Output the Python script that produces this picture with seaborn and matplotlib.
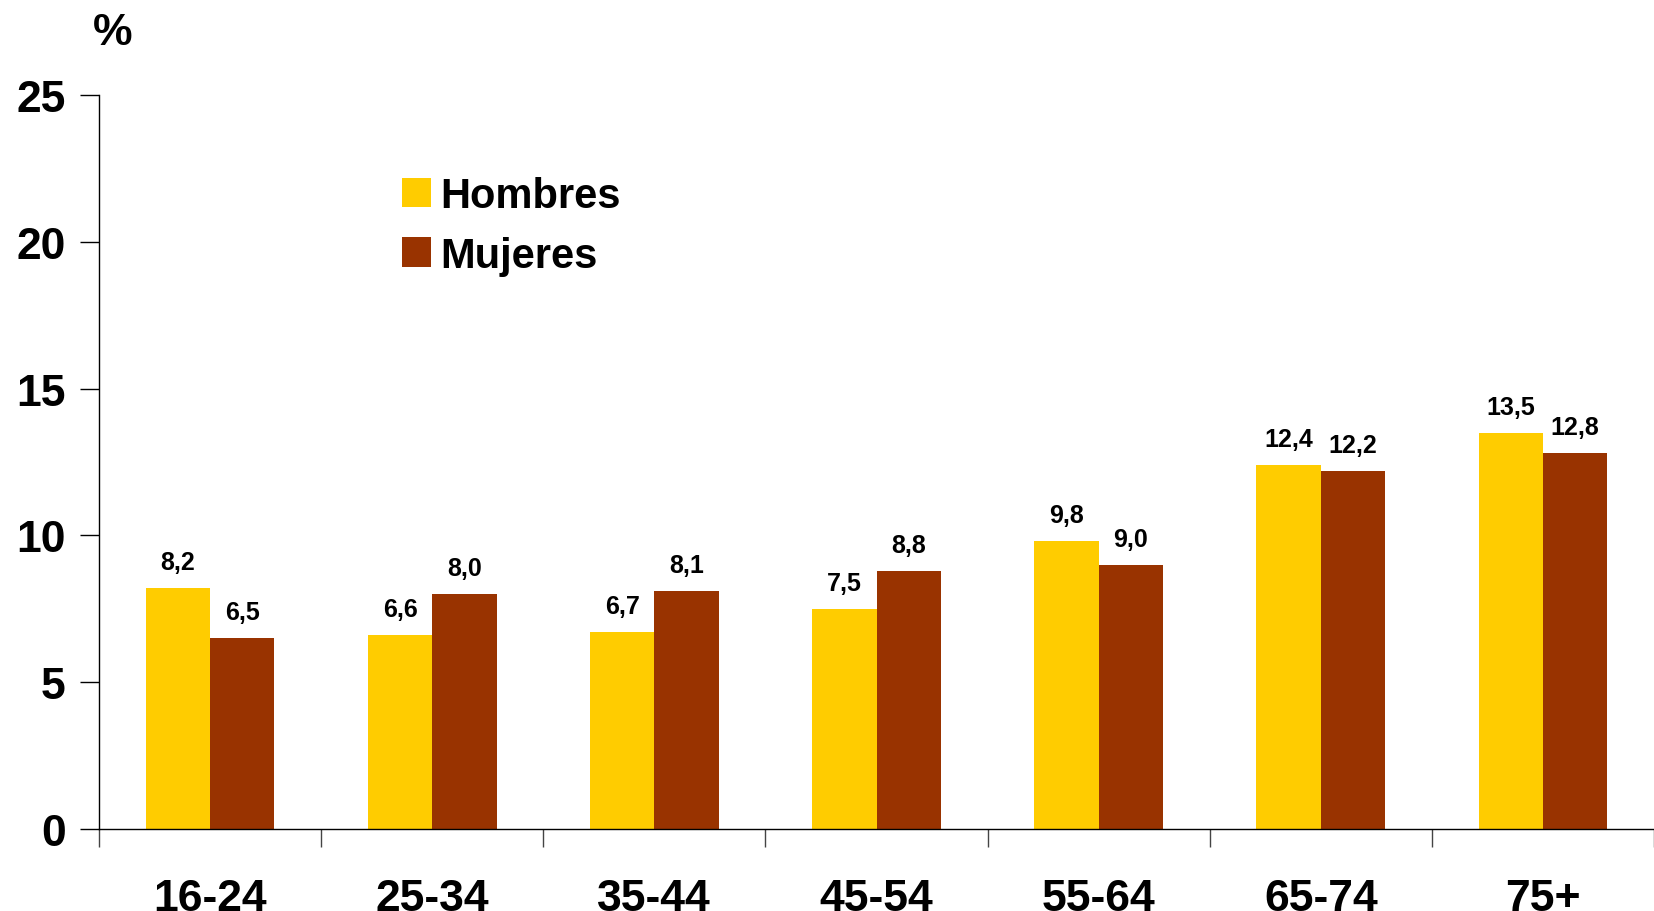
import matplotlib
matplotlib.use("Agg")
import matplotlib.pyplot as plt
import seaborn as sns
import pandas as pd
import numpy as np

categories = ["16-24", "25-34", "35-44", "45-54", "55-64", "65-74", "75+"]
hombres = [8.2, 6.6, 6.7, 7.5, 9.8, 12.4, 13.5]
mujeres = [6.5, 8.0, 8.1, 8.8, 9.0, 12.2, 12.8]
series = ["Hombres", "Mujeres"]
colors = ["#FFCC00", "#993300"]
yticks = [0, 5, 10, 15, 20, 25]

df = pd.DataFrame({
    "edad": categories * 2,
    "sexo": [series[0]] * len(categories) + [series[1]] * len(categories),
    "valor": hombres + mujeres,
})

sns.set_theme(style="white")
plt.rcParams["font.family"] = ["Liberation Sans", "DejaVu Sans"]
plt.rcParams["font.weight"] = "bold"
plt.rcParams["text.color"] = "black"
plt.rcParams["xtick.color"] = "black"
plt.rcParams["ytick.color"] = "black"

W, H = 1654, 912
fig = plt.figure(figsize=(W / 100, H / 100), dpi=100)
ax = fig.add_axes([99 / W, 1 - 830 / H, 1 - 99 / W, (830 - 96) / H])

sns.barplot(data=df, x="edad", y="valor", hue="sexo", palette=colors,
            width=0.58, saturation=1, gap=0, ax=ax, legend=True,
            linewidth=0, edgecolor="none")

for cont in ax.containers:
    labels = [f"{v:.1f}".replace(".", ",") for v in cont.datavalues]
    ax.bar_label(cont, labels=labels, padding=10, fontsize=18,
                 fontweight="bold", color="black")

ax.set_xlim(-0.5, 6.448)
ax.set_ylim(0, 25)
ax.set_yticks(yticks)
ax.set_yticklabels([str(t) for t in yticks], fontsize=32, fontweight="bold",
                   color="black")
ax.set_xticks(range(len(categories)))
ax.set_xticklabels(categories, fontsize=32, fontweight="bold", color="black")
ax.set_xticks(np.arange(-0.5, 7, 1.0), minor=True)
ax.tick_params(axis="x", which="major", length=0, pad=35)
ax.tick_params(axis="x", which="minor", length=13, width=1, color="#444444",
               direction="out", bottom=True)
ax.tick_params(axis="y", which="major", length=14, width=1, color="black",
               direction="out", left=True, pad=10)
ax.set_xlabel("")
ax.set_ylabel("")
for s in ["top", "right"]:
    ax.spines[s].set_visible(False)
for s in ["left", "bottom"]:
    ax.spines[s].set_color("black")
    ax.spines[s].set_linewidth(1)

fig.text(93 / W, 1 - 45 / H, "%", fontsize=32, fontweight="bold",
         ha="left", va="baseline", color="black")

handles, labs = ax.get_legend_handles_labels()
ax.legend(handles, labs, loc="upper left",
          bbox_to_anchor=(402 / W, 1 - 177 / H), bbox_transform=fig.transFigure,
          frameon=False, prop={"weight": "bold", "size": 30},
          handlelength=0.7, handleheight=0.7, handletextpad=0.22,
          labelspacing=0.47, borderpad=0, borderaxespad=0)

fig.savefig("out.png", dpi=100, facecolor="white")
